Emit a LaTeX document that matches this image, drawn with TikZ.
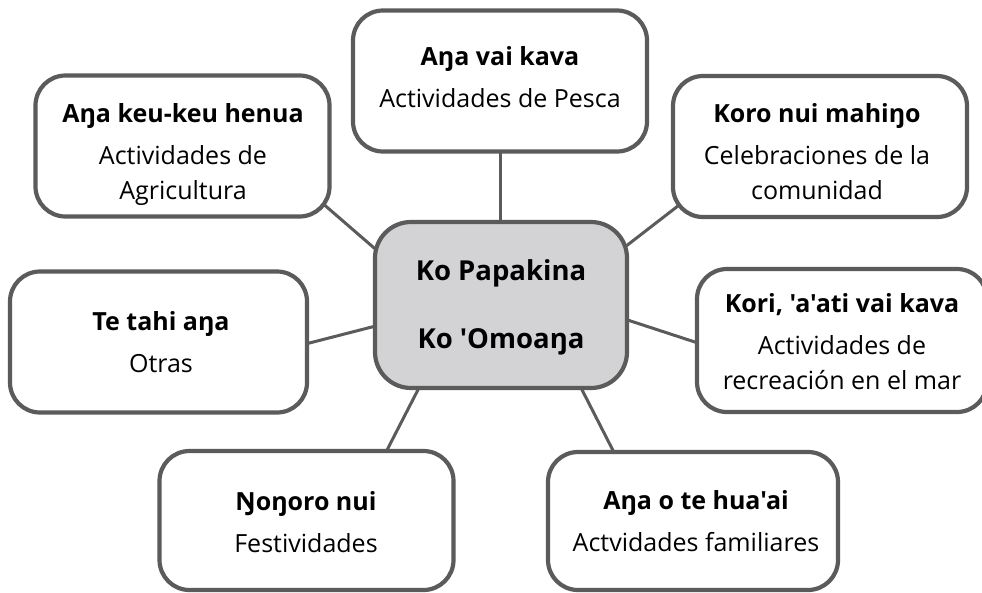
\documentclass[tikz,border=0pt]{standalone}
\usepackage{fontspec}
\newfontfamily\mapfont{Open Sans}
\usetikzlibrary{backgrounds}
\definecolor{rim}{HTML}{5B5B5B}
\definecolor{hubgray}{HTML}{D3D3D5}

\tikzset{
  topic/.style={draw=rim, line width=4.2pt, rounded corners=30pt, fill=white,
    minimum width=294pt, minimum height=141pt, inner sep=0pt},
  hub/.style={topic, fill=hubgray, minimum width=252pt, minimum height=166pt,
    rounded corners=36pt},
  txt/.style={align=center, inner sep=0pt, font=\mapfont\fontsize{25}{35}\selectfont},
  hubtxt/.style={align=center, inner sep=0pt, font=\mapfont\bfseries\fontsize{27.5}{68}\selectfont},
  link/.style={draw=rim, line width=3pt},
}

\begin{document}
\begin{tikzpicture}[x=1pt, y=-1pt]
\useasboundingbox (0,0) rectangle (982,592);

%%%%------------Bokser----------------%%
\node [hub]   (hub)      at (501,305)   {}			;
\node [topic] (pesca)    at (500,81)    {}			;
\node [topic] (keu)      at (182.5,146) {}			;
\node [topic] (koro)     at (820,146.5) {}			;
\node [topic, minimum width=290pt, minimum height=143pt] (kori) at (842,340.5) {}	;
\node [topic, minimum width=297pt] (tahi) at (158.5,342) {}	;
\node [topic, minimum height=139pt] (ngongoro) at (306.5,520.5) {}	;
\node [topic, minimum width=290pt, minimum height=138pt] (hua) at (693,521) {}	;

%%%%------------Tekster----------------%%
\node [hubtxt] (hub-t) at (501,307) {Ko Papakina\\Ko 'Omoaŋa}	;
\node [txt] (pesca-t) at (500,77) {\textbf{Aŋa vai kava}\\[7pt]Actividades de Pesca}	;
\node [txt] (keu-t) at (183,155) {\textbf{Aŋa keu-keu henua}\\[7pt]Actividades de\\Agricultura}	;
\node [txt] (koro-t) at (817,152) {\textbf{Koro nui mahiŋo}\\[7pt]Celebraciones de la\\comunidad}	;
\node [txt] (kori-t) at (842,342) {\textbf{Kori, 'a'ati vai kava}\\[7pt]Actividades de\\recreación en el mar}	;
\node [txt] (tahi-t) at (161,342) {\textbf{Te tahi aŋa}\\[7pt]Otras}	;
\node [txt] (ngongoro-t) at (306,522) {\textbf{Ŋoŋoro nui}\\[7pt]Festividades}	;
\node [txt] (hua-t) at (696,521) {\textbf{Aŋa o te hua'ai}\\[7pt]Actvidades familiares}	;

%%%---------- Linjer ------------%%%
\begin{scope}[on background layer]
\fill [white] (0,0) rectangle (982,592)	;
\draw [link] ([shift={(90,14)}]keu.center) -- ([shift={(-98,-32)}]hub.center)	;
\draw [link] (pesca.center) -- (pesca.center |- hub.center)	;
\draw [link] ([shift={(-91,20)}]koro.center) -- ([shift={(98,-38)}]hub.center)	;
\draw [link] ([shift={(-115,12)}]kori.center) -- ([shift={(96,5)}]hub.center)	;
\draw [link] ([shift={(108,12)}]tahi.center) -- ([shift={(-98,14)}]hub.center)	;
\draw [link] ([shift={(70,-50)}]ngongoro.center) -- ([shift={(-78,75)}]hub.center)	;
\draw [link] ([shift={(-69,-49)}]hua.center) -- ([shift={(76,75)}]hub.center)	;
\end{scope}

% \draw [help lines, step=50] (0,0) grid (982,592);
\end{tikzpicture}
\end{document}
